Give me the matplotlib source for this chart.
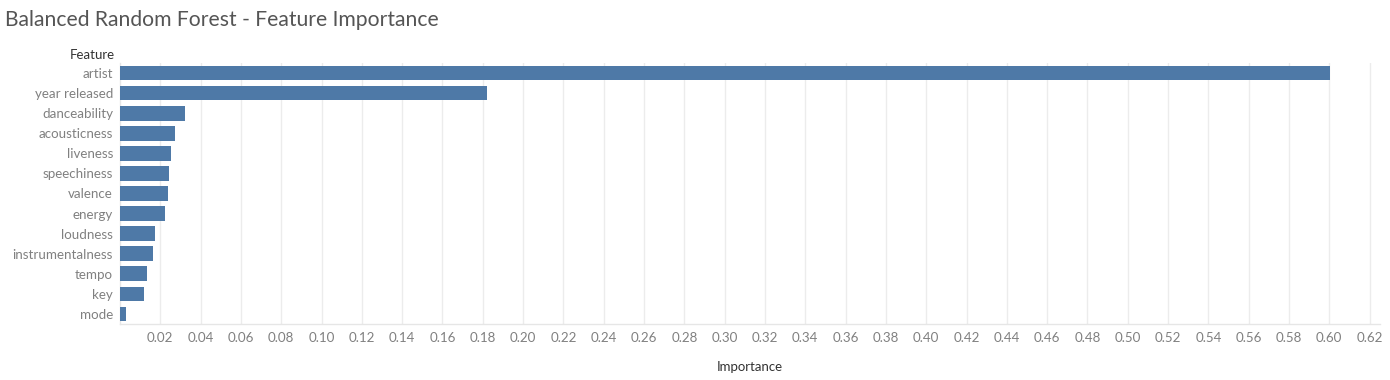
import matplotlib
matplotlib.use("Agg")
import matplotlib.pyplot as plt
import numpy as np

features = ["artist", "year released", "danceability", "acousticness", "liveness",
            "speechiness", "valence", "energy", "loudness", "instrumentalness",
            "tempo", "key", "mode"]
importance = [0.6003, 0.1821, 0.0323, 0.0273, 0.0253, 0.0243, 0.0238, 0.0223,
              0.0174, 0.0164, 0.0134, 0.0119, 0.0030]
xticks = [0.02, 0.04, 0.06, 0.08, 0.10, 0.12, 0.14, 0.16, 0.18, 0.20, 0.22, 0.24,
          0.26, 0.28, 0.30, 0.32, 0.34, 0.36, 0.38, 0.40, 0.42, 0.44, 0.46, 0.48,
          0.50, 0.52, 0.54, 0.56, 0.58, 0.60, 0.62]

plt.rcParams['font.family'] = ['Lato', 'DejaVu Sans']

fig = plt.figure(figsize=(13.9, 3.8), dpi=100)
W, H = 1390, 380
ax = fig.add_axes([120 / W, 1 - 324 / H, 1260 / W, 261 / H])

y = np.arange(len(features))
ax.barh(y, importance, height=0.73, color="#4e79a7", zorder=3)
ax.set_ylim(len(features) - 0.5, -0.5)
ax.set_xlim(0, 1260 / 2015.5)
ax.set_yticks(y)
ax.set_yticklabels(features)
ax.set_xticks(xticks)
ax.set_xticklabels([f"{v:.2f}" for v in xticks])
ax.xaxis.grid(True, color="#ececec", linewidth=1, zorder=0)
ax.tick_params(axis="both", length=0, labelsize=9.6, labelcolor="#808080")
ax.tick_params(axis="x", pad=6)
ax.tick_params(axis="y", pad=5)
for s in ["top", "right"]:
    ax.spines[s].set_visible(False)
for s in ["left", "bottom"]:
    ax.spines[s].set_color("#e6e6e6")
    ax.spines[s].set_linewidth(1)

ax.set_xlabel("Importance", fontsize=9.5, color="#333333", labelpad=12)

fig.text(5 / W, 1 - 20 / H, "Balanced Random Forest - Feature Importance",
         fontsize=15.2, color="#555555", va="center", ha="left")
fig.text(115 / W, 1 - 55 / H, "Feature", fontsize=9.5, color="#333333",
         va="center", ha="right")

fig.savefig("out.png", dpi=100)
